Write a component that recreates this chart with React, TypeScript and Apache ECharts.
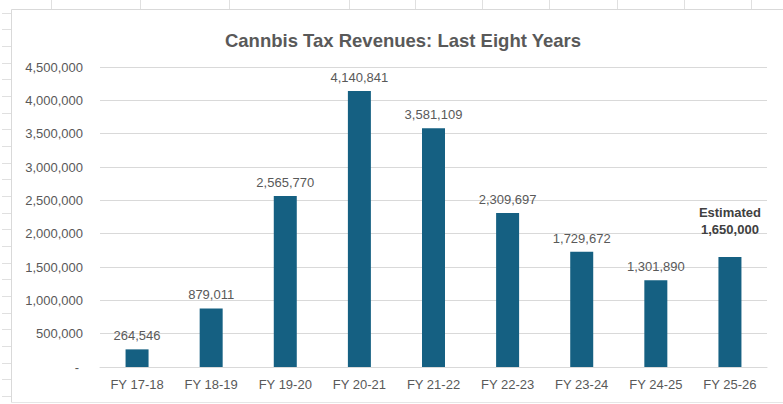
import React, { useEffect, useRef } from "react";
import * as echarts from "echarts";

const categories = ["FY 17-18", "FY 18-19", "FY 19-20", "FY 20-21", "FY 21-22", "FY 22-23", "FY 23-24", "FY 24-25", "FY 25-26"];
const revenues = [264546, 879011, 2565770, 4140841, 3581109, 2309697, 1729672, 1301890, 1650000];
const estimatedIndex = 8;
const estimatedLabel = "Estimated";
const title = "Cannbis Tax Revenues: Last Eight Years";
const yMax = 4500000;
const yStep = 500000;

const sheetColumnLines = [51, 140, 229, 349, 415, 482, 549, 617, 684, 751];

export default function App() {
  const ref = useRef<HTMLDivElement>(null);
  useEffect(() => {
    if (!ref.current) return;
    const chart = echarts.init(ref.current, undefined, { renderer: "svg" });
    const fmt = (v: number) => v.toLocaleString("en-US");
    const gridColor = "#e0e0e0";

    const graphics: any[] = [];
    sheetColumnLines.forEach((x) => {
      graphics.push({ type: "line", shape: { x1: x + 0.5, y1: 0, x2: x + 0.5, y2: 9 }, style: { stroke: gridColor, lineWidth: 1 }, silent: true });
    });
    for (let y = 12.5; y < 404; y += 16.68) {
      const yy = Math.round(y) + 0.5;
      graphics.push({ type: "line", shape: { x1: 2, y1: yy, x2: 11, y2: yy }, style: { stroke: gridColor, lineWidth: 1 }, silent: true });
    }
    graphics.push({ type: "line", shape: { x1: 11.5, y1: 9.5, x2: 783, y2: 9.5 }, style: { stroke: "#d9d9d9", lineWidth: 1 }, silent: true });
    graphics.push({ type: "line", shape: { x1: 11.5, y1: 9.5, x2: 11.5, y2: 402.5 }, style: { stroke: "#d9d9d9", lineWidth: 1 }, silent: true });
    graphics.push({ type: "line", shape: { x1: 11.5, y1: 402.5, x2: 783, y2: 402.5 }, style: { stroke: "#e6e6e6", lineWidth: 1 }, silent: true });

    const data = revenues.map((v, i) =>
      i === estimatedIndex
        ? {
            value: v,
            label: {
              formatter: estimatedLabel + "\n" + fmt(v),
              fontWeight: "bold",
              color: "#404040",
              lineHeight: 17,
              distance: 19,
            },
          }
        : v
    );

    chart.setOption({
      animation: false,
      backgroundColor: "#ffffff",
      title: {
        text: title,
        left: 398,
        top: 26,
        textAlign: "center",
        textStyle: {
          fontFamily: "'Liberation Sans', sans-serif",
          fontWeight: "bold",
          fontSize: 18.5,
          color: "#595959",
        },
      },
      graphic: graphics,
      grid: { left: 100, right: 16, top: 67, bottom: 37, containLabel: false },
      xAxis: {
        type: "category",
        data: categories,
        axisTick: { show: false },
        axisLine: { lineStyle: { color: "#d9d9d9" } },
        axisLabel: { color: "#595959", fontSize: 13, margin: 11, fontFamily: "'Liberation Sans', sans-serif" },
      },
      yAxis: {
        type: "value",
        min: 0,
        max: yMax,
        interval: yStep,
        axisLine: { show: false },
        axisTick: { show: false },
        splitLine: { lineStyle: { color: "#d9d9d9" } },
        axisLabel: {
          color: "#595959",
          fontSize: 13,
          margin: 17,
          fontFamily: "'Liberation Sans', sans-serif",
          formatter: (v: number) => (v === 0 ? "{d|-}" : fmt(v)),
          rich: { d: { padding: [0, 4, 0, 0], color: "#595959", fontSize: 13 } },
        },
      },
      series: [
        {
          type: "bar",
          data,
          barWidth: 23,
          itemStyle: { color: "#156082" },
          label: {
            show: true,
            position: "top",
            distance: 7,
            color: "#595959",
            fontSize: 13,
            fontFamily: "'Liberation Sans', sans-serif",
            formatter: (p: any) => fmt(p.value),
          },
        },
      ],
    });
    return () => chart.dispose();
  }, []);
  return <div ref={ref} style={{ position: "absolute", left: 0, top: 0, width: 783, height: 404 }} />;
}
